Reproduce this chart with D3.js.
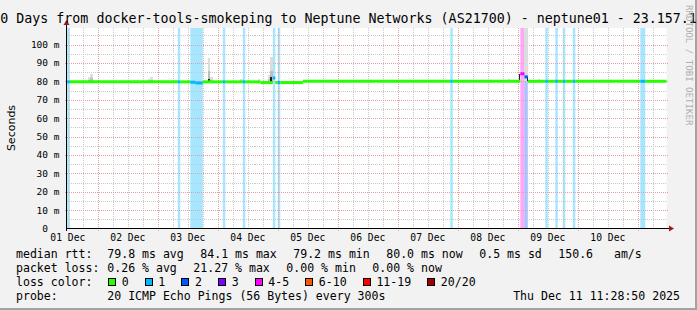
<!DOCTYPE html>
<html>
<head>
<meta charset="utf-8">
<script src="https://cdn.jsdelivr.net/npm/d3@7"></script>
<style>
  body { margin: 0; background: #fff; }
  svg { display: block; }
  text { font-family: "DejaVu Sans Mono", monospace; white-space: pre; fill: #000; }
</style>
</head>
<body>
<svg id="chart" width="697" height="310"></svg>
<script>
// smokeping 10-day graph, redrawn with d3
const TITLE = "10 Days from docker-tools-smokeping to Neptune Networks (AS21700) - neptune01 - 23.157.1";
const START = new Date("2025-12-01T11:28:50");
const END = new Date("2025-12-11T11:28:50");

const yTicks = [0, 10, 20, 30, 40, 50, 60, 70, 80, 90, 100];          // ms
const yTickLabels = ["0", "10 m", "20 m", "30 m", "40 m", "50 m", "60 m", "70 m", "80 m", "90 m", "100 m"];
const dayLabels = ["01 Dec", "02 Dec", "03 Dec", "04 Dec", "05 Dec", "06 Dec", "07 Dec", "08 Dec", "09 Dec", "10 Dec"];

// median rtt (ms), step function: value holds until next entry
const medianSteps = [
  ["2025-12-01T11:29", 79.7],
  ["2025-12-03T13:00", 79.5],
  ["2025-12-03T15:00", 79.1],
  ["2025-12-03T18:00", 79.7],
  ["2025-12-04T17:00", 79.3],
  ["2025-12-04T22:00", 81.8],
  ["2025-12-04T23:00", 79.3],
  ["2025-12-05T10:00", 80.0],
  ["2025-12-09T01:00", 84.1],
  ["2025-12-09T02:40", 82.4],
  ["2025-12-09T04:00", 80.0],
  ["2025-12-11T11:29", 80.0],
];

// lost pings out of 20: [from, to, count]
const lossEvents = [
  ["2025-12-01T11:45", "2025-12-01T12:50", 1],
  ["2025-12-03T08:00", "2025-12-03T09:00", 1],
  ["2025-12-03T13:00", "2025-12-03T18:00", 1],
  ["2025-12-04T02:00", "2025-12-04T03:00", 1],
  ["2025-12-04T10:00", "2025-12-04T11:00", 1],
  ["2025-12-04T22:00", "2025-12-04T23:00", 1],
  ["2025-12-05T00:00", "2025-12-05T01:00", 1],
  ["2025-12-07T21:00", "2025-12-07T22:00", 1],
  ["2025-12-09T01:00", "2025-12-09T02:40", 5],
  ["2025-12-09T02:40", "2025-12-09T04:00", 2],
  ["2025-12-09T11:00", "2025-12-09T12:00", 1],
  ["2025-12-09T15:00", "2025-12-09T16:00", 1],
  ["2025-12-09T18:00", "2025-12-09T19:00", 1],
  ["2025-12-09T22:00", "2025-12-09T23:00", 1],
  ["2025-12-11T01:00", "2025-12-11T03:00", 1],
];

// smoke (spread of the 20 pings): [from, to, low ms, high ms]
const smoke = [
  ["2025-12-01T20:00", "2025-12-01T21:00", 79.7, 82.5],
  ["2025-12-01T21:00", "2025-12-01T22:00", 79.7, 84.0],
  ["2025-12-02T20:00", "2025-12-02T21:00", 79.7, 81.0],
  ["2025-12-02T21:00", "2025-12-02T22:00", 79.7, 82.1],
  ["2025-12-03T20:00", "2025-12-03T21:00", 79.7, 92.5],
  ["2025-12-03T21:00", "2025-12-03T22:00", 79.7, 82.3],
  ["2025-12-04T09:00", "2025-12-04T10:00", 79.7, 81.0],
  ["2025-12-04T16:00", "2025-12-04T17:00", 79.7, 81.0],
  ["2025-12-04T20:00", "2025-12-04T21:00", 79.3, 83.4],
  ["2025-12-04T21:00", "2025-12-04T22:00", 79.3, 93.0],
  ["2025-12-08T20:00", "2025-12-08T21:00", 80.0, 81.2],
  ["2025-12-09T02:40", "2025-12-09T04:00", 80.0, 110],
  ["2025-12-09T08:00", "2025-12-09T09:00", 80.0, 81.5],
  ["2025-12-09T15:00", "2025-12-09T16:00", 80.0, 81.5],
];
// darkest smoke near the median
const smokeCore = [
  ["2025-12-03T20:00", "2025-12-03T21:00", 79.7, 81.5],
  ["2025-12-04T21:00", "2025-12-04T21:40", 79.3, 82.5],
  ["2025-12-09T00:36", "2025-12-09T01:00", 80.0, 84.1],
  ["2025-12-09T03:36", "2025-12-09T04:00", 80.0, 82.4],
];

const lossLabels = ["0", "1", "2", "3", "4-5", "6-10", "11-19", "20/20"];
const lossColors = ["#26ff00", "#00b8ff", "#0059ff", "#7e00ff", "#ff00ff", "#ff5500", "#ff0000", "#a00000"];

const medianStats = ["79.8 ms avg", "84.1 ms max", "79.2 ms min", "80.0 ms now", "0.5 ms sd", "150.6   am/s"];
const lossStats = ["0.26 % avg", "21.27 % max", "0.00 % min", "0.00 % now"];
const PROBE = "20 ICMP Echo Pings (56 Bytes) every 300s";
const STAMP = "Thu Dec 11 11:28:50 2025";

function lossIndex(n) {
  if (n <= 3) return n;
  if (n <= 5) return 4;
  if (n <= 10) return 5;
  if (n <= 19) return 6;
  return 7;
}

const svg = d3.select("#chart");
const W = 697, H = 310;
const pL = 66.5, pR = 666.5, pT = 28, pB = 228.5;

const x = d3.scaleTime().domain([START, END]).range([pL, pR]);
const y = d3.scaleLinear().domain([0, 100]).range([pB, 44.5]);
const T = s => new Date(s);

// background + frame
svg.append("rect").attr("width", W).attr("height", H).attr("fill", "#f2f2f2");
svg.append("rect").attr("x", 0).attr("y", H - 2).attr("width", W).attr("height", 2).attr("fill", "#a3a3a3");
svg.append("rect").attr("x", W - 2).attr("y", 0).attr("width", 2).attr("height", H).attr("fill", "#a3a3a3");

svg.append("rect").attr("x", pL).attr("y", pT)
  .attr("width", pR - pL).attr("height", pB - pT).attr("fill", "#fff");

// loss background bars
svg.append("g").selectAll("rect").data(lossEvents).join("rect")
  .attr("x", d => x(T(d[0]))).attr("y", pT)
  .attr("width", d => x(T(d[1])) - x(T(d[0])))
  .attr("height", pB - pT)
  .attr("fill", d => lossColors[lossIndex(d[2])])
  .attr("fill-opacity", 0.35);

// grid
const grid = svg.append("g").attr("shape-rendering", "crispEdges");
const majorDays = d3.timeDay.range(START, END);
const minorHours = d3.timeHour.every(6).range(START, END).filter(d => d.getHours() !== 0);
grid.selectAll(".vmin").data(minorHours).join("line")
  .attr("x1", d => Math.round(x(d)) + 0.5).attr("x2", d => Math.round(x(d)) + 0.5)
  .attr("y1", pT).attr("y2", pB)
  .attr("stroke", "#c8c8c8").attr("stroke-dasharray", "1 1");
const minorY = d3.range(5, 110, 10);
grid.selectAll(".hmin").data(minorY).join("line")
  .attr("x1", pL).attr("x2", pR)
  .attr("y1", d => Math.round(y(d)) + 0.5).attr("y2", d => Math.round(y(d)) + 0.5)
  .attr("stroke", "#c8c8c8").attr("stroke-dasharray", "1 1");
grid.selectAll(".vmaj").data(majorDays).join("line")
  .attr("x1", d => Math.round(x(d)) + 0.5).attr("x2", d => Math.round(x(d)) + 0.5)
  .attr("y1", pT).attr("y2", pB + 2)
  .attr("stroke", "#e6a0a0").attr("stroke-dasharray", "1 1");
grid.selectAll(".hmaj").data(yTicks.slice(1)).join("line")
  .attr("x1", pL - 2).attr("x2", pR + 2)
  .attr("y1", d => Math.round(y(d)) + 0.5).attr("y2", d => Math.round(y(d)) + 0.5)
  .attr("stroke", "#e6a0a0").attr("stroke-dasharray", "1 1");

// smoke
const sm = svg.append("g").attr("shape-rendering", "crispEdges");
sm.selectAll(".light").data(smoke).join("rect")
  .attr("x", d => x(T(d[0]))).attr("width", d => x(T(d[1])) - x(T(d[0])))
  .attr("y", d => y(Math.min(d[3], 109))).attr("height", d => y(d[2]) - y(Math.min(d[3], 109)))
  .attr("fill", "#dcdcdc");
sm.selectAll(".mid").data(smoke.filter(d => d[3] < 100)).join("rect")
  .attr("x", d => x(T(d[0]))).attr("width", d => x(T(d[1])) - x(T(d[0])))
  .attr("y", d => y(d[2] + (d[3] - d[2]) * 0.45)).attr("height", d => y(d[2]) - y(d[2] + (d[3] - d[2]) * 0.45))
  .attr("fill", "#bdbdbd");
sm.selectAll(".core").data(smokeCore).join("rect")
  .attr("x", d => x(T(d[0]))).attr("width", d => Math.max(1, x(T(d[1])) - x(T(d[0]))))
  .attr("y", d => y(d[3])).attr("height", d => y(d[2]) - y(d[3]))
  .attr("fill", "#202020");

// median line split by loss colour
const steps = medianSteps.map(d => ({ t: T(d[0]), v: d[1] }));
const valueAt = t => { let v = steps[0].v; for (const s of steps) if (s.t <= t) v = s.v; return v; };
const lossAt = t => { for (const e of lossEvents) if (T(e[0]) <= t && t < T(e[1])) return e[2]; return 0; };
const cuts = Array.from(new Set([START, ...steps.map(s => s.t), ...lossEvents.flatMap(e => [T(e[0]), T(e[1])]), END]
  .map(d => +d))).filter(d => d >= +START && d <= +END).sort((a, b) => a - b);
const pieces = [];
for (let i = 0; i < cuts.length - 1; i++) {
  const t0 = new Date(cuts[i]), t1 = new Date(cuts[i + 1]);
  pieces.push({ t0, t1, v: valueAt(t0), c: lossColors[lossIndex(lossAt(t0))] });
}
const ml = svg.append("g");
ml.selectAll("line").data(pieces).join("line")
  .attr("x1", d => x(d.t0)).attr("x2", d => x(d.t1))
  .attr("y1", d => y(d.v)).attr("y2", d => y(d.v))
  .attr("stroke", d => d.c).attr("stroke-width", 3);

// axes
const ax = svg.append("g").attr("shape-rendering", "crispEdges");
ax.append("line").attr("x1", pL).attr("x2", 670).attr("y1", pB).attr("y2", pB).attr("stroke", "#000");
ax.append("line").attr("x1", pL).attr("x2", pL).attr("y1", pB + 2).attr("y2", 24).attr("stroke", "#000");
svg.append("path").attr("d", `M669,${pB - 3}L674,${pB}L669,${pB + 3}Z`).attr("fill", "#9e1a1a");
svg.append("path").attr("d", `M${pL - 3},25L${pL},20L${pL + 3},25Z`).attr("fill", "#9e1a1a");

// y labels (unit-less "0" sits two characters further left, as rrdtool pads it)
const charW = 9.5 * 0.602;
svg.append("g").selectAll("text").data(yTicks).join("text")
  .attr("x", (d, i) => yTickLabels[i].includes("m") ? 59.5 : 59.5 - 2 * charW)
  .attr("y", d => y(d) + 3.5)
  .attr("text-anchor", "end").attr("font-size", "9.5px")
  .text((d, i) => yTickLabels[i]);

// x labels at noon of each day
svg.append("g").selectAll("text").data(dayLabels).join("text")
  .attr("x", (d, i) => x(d3.timeHour.offset(d3.timeDay.offset(d3.timeDay.floor(START), i), 12)))
  .attr("y", 240.5).attr("text-anchor", "middle").attr("font-size", "9.7px")
  .text(d => d);

// titles
svg.append("text").attr("x", -7.7).attr("y", 23).attr("font-size", "13.3px").text(TITLE);
svg.append("text").attr("transform", "translate(14.5,128) rotate(-90)")
  .attr("text-anchor", "middle").style("font-family", "'DejaVu Sans', sans-serif")
  .attr("font-size", "11px").text("Seconds");
svg.append("text").attr("transform", "translate(686,5) rotate(90)")
  .attr("font-size", "9.1px").style("fill", "#b0b0b0").text("RRDTOOL / TOBI OETIKER");

// legend
const LX = 16, VX = 107.3, GAP = 16.5, FS = "11.55px";
const leg = svg.append("g").attr("font-size", FS);
function row(label, parts, yy) {
  leg.append("text").attr("x", LX).attr("y", yy).text(label);
  let cx = VX;
  for (const p of parts) {
    const t = leg.append("text").attr("x", cx).attr("y", yy).text(p);
    cx += t.node().getComputedTextLength() + GAP;
  }
}
row("median rtt:", medianStats, 257.5);
row("packet loss:", lossStats, 271.5);
leg.append("text").attr("x", LX).attr("y", 285.5).text("loss color:");
let bx = 108.5;
lossLabels.forEach((lab, i) => {
  leg.append("rect").attr("x", bx).attr("y", 278.5).attr("width", 7).attr("height", 7)
    .attr("fill", lossColors[i]).attr("stroke", "#000").attr("shape-rendering", "crispEdges");
  const t = leg.append("text").attr("x", bx + 13.2).attr("y", 285.5).text(lab);
  bx += 13.2 + t.node().getComputedTextLength() + GAP;
});
leg.append("text").attr("x", LX).attr("y", 299.5).text("probe:");
leg.append("text").attr("x", VX).attr("y", 299.5).text(PROBE);
leg.append("text").attr("x", 680).attr("y", 299.5).attr("text-anchor", "end").text(STAMP);
</script>
</body>
</html>
